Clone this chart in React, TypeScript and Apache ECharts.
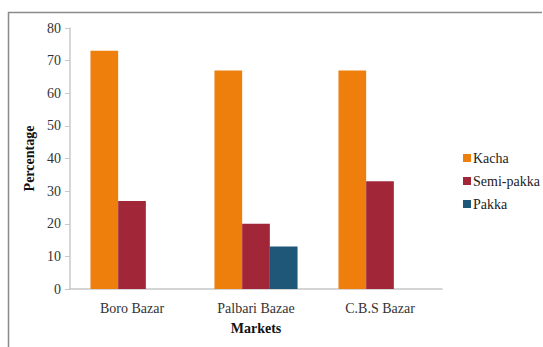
import React, { useEffect, useRef } from "react";
import * as echarts from "echarts";

const markets = ["Boro Bazar", "Palbari Bazae", "C.B.S Bazar"];
const kacha = [73, 67, 67];
const semiPakka = [27, 20, 33];
const pakka = [0, 13, 0];
const yTicks = [0, 10, 20, 30, 40, 50, 60, 70, 80];

const FONT = "Liberation Serif";

export default function App() {
  const ref = useRef<HTMLDivElement>(null);

  useEffect(() => {
    if (!ref.current) return;
    const chart = echarts.init(ref.current, undefined, { renderer: "svg" });
    chart.setOption({
      animation: false,
      backgroundColor: "#ffffff",
      textStyle: { fontFamily: FONT },
      grid: { left: 70, right: 101, top: 28, bottom: 58, containLabel: false },
      legend: {
        orient: "vertical",
        left: 458,
        top: 146,
        icon: "rect",
        itemWidth: 8,
        itemHeight: 8,
        itemGap: 9,
        textStyle: { fontFamily: FONT, fontSize: 14, color: "#222", padding: [0, 0, 0, -3] },
        data: ["Kacha", "Semi-pakka", "Pakka"],
      },
      xAxis: {
        type: "category",
        data: markets,
        name: "Markets",
        nameLocation: "middle",
        nameGap: 32,
        nameTextStyle: { fontFamily: FONT, fontSize: 14, fontWeight: "bold", color: "#111" },
        axisLine: { lineStyle: { color: "#c8c8c8", width: 1.5 } },
        axisTick: { show: false },
        axisLabel: { fontFamily: FONT, fontSize: 14, color: "#333", margin: 12 },
      },
      yAxis: {
        type: "value",
        min: yTicks[0],
        max: yTicks[yTicks.length - 1],
        interval: 10,
        name: "Percentage",
        nameLocation: "middle",
        nameGap: 33,
        nameTextStyle: { fontFamily: FONT, fontSize: 14, fontWeight: "bold", color: "#111" },
        axisLine: { show: true, lineStyle: { color: "#c8c8c8", width: 1.5 } },
        axisTick: { show: true, length: 5, lineStyle: { color: "#c8c8c8" } },
        axisLabel: { fontFamily: FONT, fontSize: 14, color: "#333", margin: 9 },
        splitLine: { show: false },
      },
      series: [
        {
          name: "Kacha",
          type: "bar",
          data: kacha,
          barGap: "0%",
          barCategoryGap: "33%",
          itemStyle: { color: "#ef7f0d" },
        },
        {
          name: "Semi-pakka",
          type: "bar",
          data: semiPakka,
          itemStyle: { color: "#a02638" },
        },
        {
          name: "Pakka",
          type: "bar",
          data: pakka,
          itemStyle: { color: "#1e5778" },
        },
      ],
      graphic: [
        {
          type: "line",
          shape: { x1: 8, y1: 12.5, x2: 542, y2: 12.5 },
          style: { stroke: "#8a8a8a", lineWidth: 1.5 },
        },
        {
          type: "line",
          shape: { x1: 8.5, y1: 12, x2: 8.5, y2: 347 },
          style: { stroke: "#8a8a8a", lineWidth: 1.5 },
        },
      ],
    });
    return () => chart.dispose();
  }, []);

  return (
    <div
      ref={ref}
      style={{ position: "fixed", left: 0, top: 0, width: 543, height: 347 }}
    />
  );
}
